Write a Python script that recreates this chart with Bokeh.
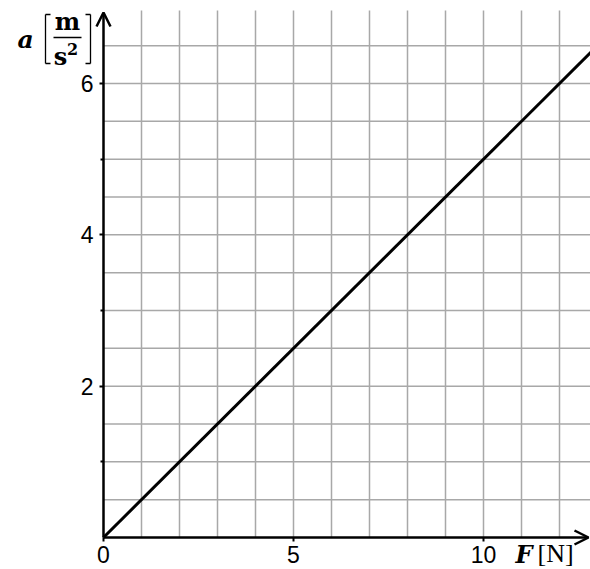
from bokeh.plotting import figure
from bokeh.models import Range1d, FixedTicker, Arrow, OpenHead, Label
from bokeh.embed import file_html
from bokeh.resources import INLINE
import numpy as np

# Force F [N] and acceleration a [m/s^2]: a = F / m with m = 2 kg
force = [0, 13]
accel = [0, 6.5]

x_ticks = [0, 5, 10]
y_ticks = [2, 4, 6]
y_minor = [1, 3, 5]
x_grid = list(range(1, 13))
y_grid = list(np.arange(0.5, 7.0, 0.5))

W, H = 590, 569
ORIGIN_X, ORIGIN_Y = 103, 537   # pixel position of (0, 0)
PX_X = 38.0      # pixels per newton
PX_Y = 75.67     # pixels per m/s^2


def dx(px):
    return (px - ORIGIN_X) / PX_X


def dy(py):
    return (ORIGIN_Y - py) / PX_Y


x_top = dx(W)      # right end of the plotting area
y_top = dy(10)     # top of the grid

p = figure(width=W, height=H, output_backend="svg", toolbar_location=None,
           x_range=Range1d(dx(0), dx(W)), y_range=Range1d(dy(H), dy(0)),
           min_border=0)
p.outline_line_color = None
p.background_fill_color = "white"
p.border_fill_color = "white"
p.xgrid.visible = False
p.ygrid.visible = False

# grid, drawn only in the first quadrant
p.segment(x0=x_grid, y0=[0] * len(x_grid), x1=x_grid, y1=[y_top] * len(x_grid),
          line_color="#a8a8a8", line_width=1.5)
p.segment(x0=[0] * len(y_grid), y0=y_grid, x1=[x_top] * len(y_grid), y1=y_grid,
          line_color="#a8a8a8", line_width=1.5)

# axes crossing at the origin
p.xaxis.fixed_location = 0
p.yaxis.fixed_location = 0
p.xaxis.ticker = FixedTicker(ticks=x_ticks, minor_ticks=[])
p.yaxis.ticker = FixedTicker(ticks=y_ticks, minor_ticks=y_minor)
for ax in (p.xaxis, p.yaxis):
    ax.axis_line_color = None
    ax.major_tick_in = 0
    ax.major_tick_out = 4
    ax.major_tick_line_width = 2
    ax.major_tick_line_color = "black"
    ax.minor_tick_in = 0
    ax.minor_tick_out = 3
    ax.minor_tick_line_width = 2
    ax.minor_tick_line_color = "black"
    ax.major_label_text_font = "Liberation Sans"
    ax.major_label_text_font_size = "23px"
    ax.major_label_text_color = "black"
p.xaxis.major_label_standoff = 4
p.yaxis.major_label_standoff = 6

# a = F/2
p.line(force, accel, line_width=3, line_color="black")

# axis lines with arrow heads
p.add_layout(Arrow(x_start=0, y_start=0, x_end=dx(588), y_end=0,
                   line_width=2.5, line_color="black",
                   end=OpenHead(size=14, line_width=2.5, line_color="black")))
p.add_layout(Arrow(x_start=0, y_start=0, x_end=0, y_end=dy(12),
                   line_width=2.5, line_color="black",
                   end=OpenHead(size=14, line_width=2.5, line_color="black")))

# axis titles
serif = "DejaVu Serif"


def text(px, py, s, size, style="normal", font=serif, align="center"):
    p.add_layout(Label(x=dx(px), y=dy(py), text=s, text_font=font,
                       text_font_style=style, text_font_size=size,
                       text_color="black", text_align=align,
                       text_baseline="middle"))


text(25, 39, "a", "25px", "bold italic")
text(67, 21, "m", "24px", "bold")
text(60, 56, "s", "24px", "bold")
text(72, 48, "2", "16px", "bold")


def seg(x0, y0, x1, y1, w=1.5):
    p.add_layout(Arrow(x_start=dx(x0), y_start=dy(y0), x_end=dx(x1), y_end=dy(y1),
                       start=None, end=None, line_width=w, line_color="black"))


# fraction bar and tall brackets
seg(53, 37, 81, 37, 1.5)
seg(45, 14, 45, 63, 1.3)
seg(45, 14, 50, 14, 1.3)
seg(45, 63, 50, 63, 1.3)
seg(90, 14, 90, 63, 1.3)
seg(85, 14, 90, 14, 1.3)
seg(85, 63, 90, 63, 1.3)

text(515, 554, "F", "24px", "bold italic", align="left")
text(537, 553, "[N]", "26px", "normal", font="Liberation Serif", align="left")

open("out.html", "w").write(file_html(p, INLINE))
